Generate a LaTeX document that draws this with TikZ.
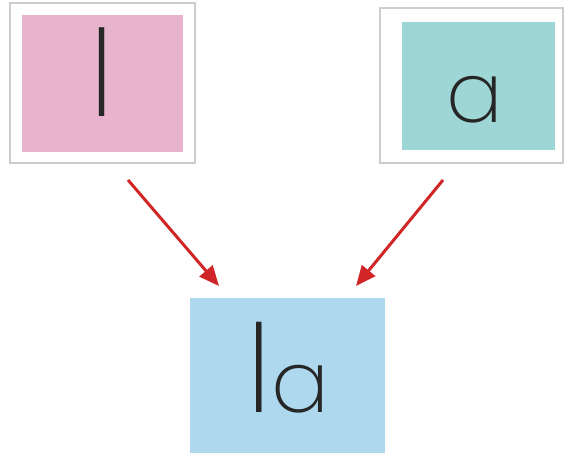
\documentclass[tikz,border=0pt]{standalone}
\usepackage{fontspec}
\newfontfamily\lettfont{Poppins ExtraLight}
\usetikzlibrary{arrows.meta}
\definecolor{pinkfill}{RGB}{232,180,205}
\definecolor{tealfill}{RGB}{158,214,214}
\definecolor{bluefill}{RGB}{174,216,238}
\definecolor{framegray}{RGB}{205,205,205}
\definecolor{arrowred}{RGB}{208,38,40}
\tikzset{
  frame/.style={draw=framegray, line width=1.2pt, fill=white, inner sep=0pt},
  card/.style={draw=none, inner sep=0pt},
  letter/.style={inner sep=0pt, text=black!85, font=\lettfont},
  link/.style={draw=arrowred, line width=3pt, -{Triangle[length=20pt,width=17pt]}}
}
\begin{document}
\begin{tikzpicture}[x=1pt,y=1pt]
\useasboundingbox (0,0) rectangle (573,469);
% top-left
\node[frame, minimum width=185pt, minimum height=160pt] (lframe) at (102.5,386) {};
\node[card, fill=pinkfill, minimum width=161pt, minimum height=137pt] (lcard) at (102.5,385.5) {};
\node[letter, anchor=base, font=\lettfont\fontsize{120}{120}\selectfont] (ltext) at (102,352) {l};
% top-right
\node[frame, minimum width=183pt, minimum height=155pt] (aframe) at (471.5,383.5) {};
\node[card, fill=tealfill, minimum width=153pt, minimum height=128pt] (acard) at (478.5,383) {};
\node[letter, anchor=base, font=\lettfont\fontsize{84}{84}\selectfont] (atext) at (475,346) {a};
% bottom
\node[card, fill=bluefill, minimum width=195pt, minimum height=155pt] (lacard) at (287.5,93.5) {};
\node[letter, anchor=base] (latext) at (288,57) {{\fontsize{122}{122}\selectfont l}{\fontsize{86}{86}\selectfont a}};
% arrows
\coordinate (s1) at (128,289);
\coordinate (e1) at (219,183);
\coordinate (s2) at (443,289);
\coordinate (e2) at (356,183);
\draw[link] (s1) -- (e1);
\draw[link] (s2) -- (e2);
\end{tikzpicture}
\end{document}
